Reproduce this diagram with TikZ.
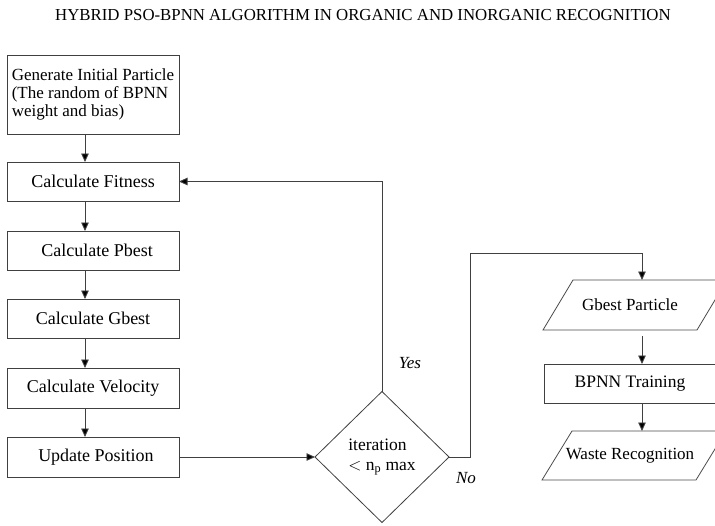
\documentclass[tikz,border=0pt]{standalone}
\usepackage{fontspec}
\setmainfont{Liberation Serif}
\usetikzlibrary{arrows.meta,shapes.geometric}
\begin{document}
\begin{tikzpicture}[x=1pt,y=-1pt,
  every node/.style={inner sep=0pt,outer sep=0pt},
  procbox/.style={draw=black!75,line width=0.9pt,minimum width=172pt,minimum height=39pt,font=\fontsize{18}{20}\selectfont},
  iobox/.style={minimum width=154pt,minimum height=50pt,font=\fontsize{17}{20}\selectfont},
  ioline/.style={draw=black!70,line width=0.8pt},
  decbox/.style={draw=black!75,line width=0.8pt,diamond,minimum width=134pt,minimum height=131pt,align=left,font=\fontsize{17.5}{20}\selectfont},
  flow/.style={draw=black!75,line width=0.9pt},
  arrow/.style={flow,-{Triangle[length=8.5pt,width=7.5pt,fill=black]}},
  lbl/.style={font=\fontsize{17}{20}\selectfont\itshape}]
\clip (0,0) rectangle (715,525);
\fill[white] (0,0) rectangle (715,525);
\node (title) at (363,15) {\fontsize{16.8}{18}\selectfont HYBRID PSO-BPNN ALGORITHM IN ORGANIC AND INORGANIC RECOGNITION};
\node[procbox,minimum height=79pt,align=left,font=\fontsize{17}{18}\selectfont] (gen) at (93,94.5) {Generate Initial Particle\\(The random of BPNN\\weight and bias)};
\node[procbox] (fit) at (93,181.5) {Calculate Fitness};
\node[procbox] (pb) at (93,250.5) {\hspace{8pt}Calculate Pbest};
\node[procbox] (gb) at (93,318.5) {Calculate Gbest};
\node[procbox,minimum height=40pt] (vel) at (93,388) {Calculate Velocity};
\node[procbox,minimum height=40pt] (up) at (93,457) {\hspace{6pt}Update Position};
\node[decbox] (dia) at (382,457) {iteration\\$<$ n\textsubscript{p} max};
\node[iobox] (gp) at (635,305) {\hspace{-10pt}Gbest Particle};
\node[procbox,font=\fontsize{17.5}{20}\selectfont] (bt) at (630,383.5) {BPNN Training};
\node[iobox,minimum height=49pt] (wr) at (634,455.5) {\hspace{-8pt}Waste Recognition};
\node[lbl] (yes) at (410,363) {Yes};
\node[lbl] (no) at (466,478) {No};
\foreach \p in {gp,wr}{
  \draw[ioline] ([xshift=-15pt]\p.south west) -- ([xshift=15pt]\p.north west) -- ([xshift=15pt]\p.north east) -- ([xshift=-15pt]\p.south east) -- cycle;
}
\coordinate (ax) at (85,0);
\coordinate (rax) at (642,0);
\coordinate (nocorner) at (470,253);
\draw[arrow] (gen.south -| ax) -- (fit.north -| ax);
\draw[arrow] (fit.south -| ax) -- (pb.north -| ax);
\draw[arrow] (pb.south -| ax) -- (gb.north -| ax);
\draw[arrow] (gb.south -| ax) -- (vel.north -| ax);
\draw[arrow] (vel.south -| ax) -- (up.north -| ax);
\draw[arrow] (up.east) -- (dia.west);
\draw[arrow] (dia.north) |- (fit.east);
\draw[arrow] (dia.east) -- (dia.east -| nocorner) -- (nocorner) -- (nocorner -| rax) -- (gp.north -| rax);
\draw[arrow,shorten <=6pt] (gp.south -| rax) -- (bt.north -| rax);
\draw[arrow] (bt.south -| rax) -- (wr.north -| rax);
\end{tikzpicture}
\end{document}
